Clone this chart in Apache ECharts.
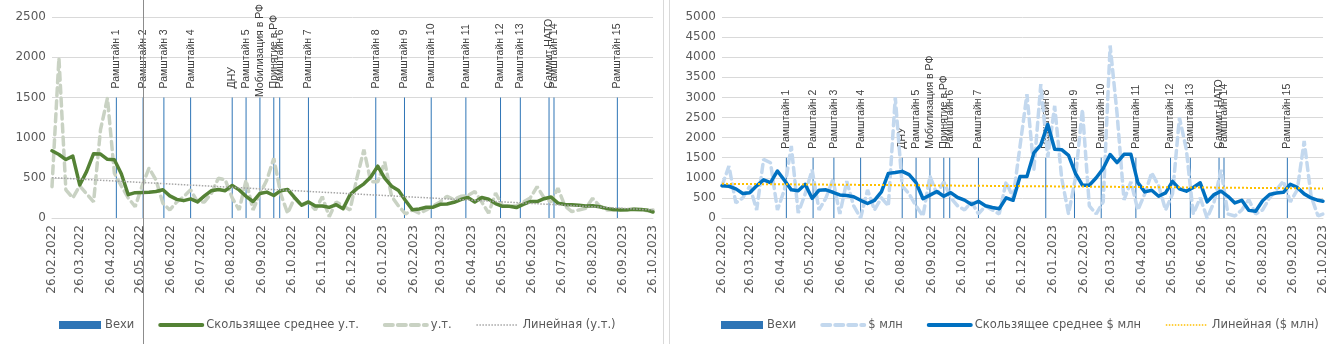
<!DOCTYPE html>
<html><head><meta charset="utf-8">
<script src="https://cdn.jsdelivr.net/npm/echarts@6/dist/echarts.min.js"></script>
<style>
html,body{margin:0;padding:0;background:#fff;width:1334px;height:344px;overflow:hidden}
#c1{position:absolute;left:0;top:0;width:664px;height:344px;border-right:1px solid #d9d9d9;box-sizing:border-box}
#c2{position:absolute;left:669px;top:0;width:665px;height:344px;border-left:1px solid #d9d9d9;box-sizing:border-box}
</style></head><body>
<div id="c1"></div><div id="c2"></div>
<script>
// ---------- DATA ----------
const axisStart = '26.02.2022';
const axisEnd = '26.10.2023';
const monthTicks = ['26.02.2022','26.03.2022','26.04.2022','26.05.2022','26.06.2022','26.07.2022','26.08.2022','26.09.2022','26.10.2022','26.11.2022','26.12.2022','26.01.2023','26.02.2023','26.03.2023','26.04.2023','26.05.2023','26.06.2023','26.07.2023','26.08.2023','26.09.2023','26.10.2023'];
const weekDates = ['26.02.2022','05.03.2022','12.03.2022','19.03.2022','26.03.2022','02.04.2022','09.04.2022','16.04.2022','23.04.2022','30.04.2022','07.05.2022','14.05.2022','21.05.2022','28.05.2022','04.06.2022','11.06.2022','18.06.2022','25.06.2022','02.07.2022','09.07.2022','16.07.2022','23.07.2022','30.07.2022','06.08.2022','13.08.2022','20.08.2022','27.08.2022','03.09.2022','10.09.2022','17.09.2022','24.09.2022','01.10.2022','08.10.2022','15.10.2022','22.10.2022','29.10.2022','05.11.2022','12.11.2022','19.11.2022','26.11.2022','03.12.2022','10.12.2022','17.12.2022','24.12.2022','31.12.2022','07.01.2023','14.01.2023','21.01.2023','28.01.2023','04.02.2023','11.02.2023','18.02.2023','25.02.2023','04.03.2023','11.03.2023','18.03.2023','25.03.2023','01.04.2023','08.04.2023','15.04.2023','22.04.2023','29.04.2023','06.05.2023','13.05.2023','20.05.2023','27.05.2023','03.06.2023','10.06.2023','17.06.2023','24.06.2023','01.07.2023','08.07.2023','15.07.2023','22.07.2023','29.07.2023','05.08.2023','12.08.2023','19.08.2023','26.08.2023','02.09.2023','09.09.2023','16.09.2023','23.09.2023','30.09.2023','07.10.2023','14.10.2023','21.10.2023','26.10.2023'];

// у.т. (left chart)
const utValues = [390,1990,350,250,400,300,200,1100,1490,557,400,250,140,400,620,474,183,100,200,266,350,200,200,307,495,474,250,100,470,100,300,473,743,300,58,250,150,200,100,265,17,200,150,100,500,850,450,450,700,270,150,50,100,60,100,150,200,270,230,270,280,330,200,60,310,150,150,150,200,250,390,250,200,370,150,80,100,120,245,150,100,100,110,100,110,100,90,100];
const utMA = [836,790,727,770,411,580,800,795,730,725,550,290,315,318,320,330,352,275,232,216,238,200,275,340,355,340,405,350,270,205,305,322,280,340,355,255,160,200,148,150,132,165,115,290,365,425,510,645,495,395,341,218,102,112,133,135,170,175,195,230,255,200,255,233,180,145,145,130,170,205,205,240,262,185,168,164,160,150,153,140,120,105,100,102,110,105,95,75];
const utTrend = [502,100];

// $ млн (right chart)
const usdValues = [800,1290,375,500,790,200,1460,1375,200,700,1790,125,600,1200,200,500,960,100,915,300,0,700,200,500,300,3000,800,600,300,50,1040,600,900,500,300,200,400,100,300,200,100,900,500,1790,3080,1200,3330,1500,2790,1000,100,1000,2700,300,100,400,4290,2600,450,900,200,600,1125,800,200,600,2500,1700,100,500,0,400,1200,100,50,200,460,100,200,500,700,915,400,700,1915,540,50,100];
const usdMA = [805,790,725,610,630,800,950,880,1170,940,700,680,840,490,690,700,640,575,560,530,440,360,440,650,1110,1130,1160,1080,880,480,570,660,540,630,510,445,335,415,305,260,230,500,440,1030,1030,1620,1820,2330,1710,1700,1560,1110,816,816,1000,1230,1580,1380,1583,1583,880,650,690,540,625,910,725,667,760,875,400,583,667,540,375,440,190,166,430,583,620,640,840,760,600,500,440,417];
const usdTrend = [850,735];

// milestones
const milestoneDates = ['02.05.2022','29.05.2022','19.06.2022','16.07.2022','27.08.2022','10.09.2022','24.09.2022','08.10.2022','14.10.2022','12.11.2022','19.01.2023','17.02.2023','16.03.2023','20.04.2023','25.05.2023','14.06.2023','13.07.2023','18.07.2023','20.09.2023'];
const milestoneNames = ['Рамштайн 1','Рамштайн 2','Рамштайн 3','Рамштайн 4','ДНУ','Рамштайн 5','Мобилизация в РФ','Принятие в РФ','Рамштайн 6','Рамштайн 7','Рамштайн 8','Рамштайн 9','Рамштайн 10','Рамштайн 11','Рамштайн 12','Рамштайн 13','Саммит НАТО','Рамштайн 14','Рамштайн 15'];
const milestoneValues = [1500,1500,1500,1500,1500,1500,1500,1500,1500,1500,1500,1500,1500,1500,1500,1500,1500,1500,1500];

// ---------- helpers ----------
function parseD(s){const p=s.split('.');return new Date(Date.UTC(+p[2],+p[1]-1,+p[0]));}
function fmtD(d){const dd=String(d.getUTCDate()).padStart(2,'0'),mm=String(d.getUTCMonth()+1).padStart(2,'0');return dd+'.'+mm+'.'+d.getUTCFullYear();}
const days=[];
for(let d=parseD(axisStart);d<=parseD(axisEnd);d=new Date(d.getTime()+86400000)) days.push(fmtD(d));
const pairs=(xs,ys)=>xs.map((x,i)=>[x,ys[i]]);

const TXT='#595959';
const HIDE={color:'rgba(0,0,0,0)',borderColor:'rgba(0,0,0,0)',borderWidth:0};
const LBL_FONT_SIZE=10.5, LBL_FONT='Liberation Sans', LBL_GAP=9;
const GRID_TOP=17, GRID_H=201;
const mctx=document.createElement('canvas').getContext('2d');
mctx.font=LBL_FONT_SIZE+'px "'+LBL_FONT+'"';

// like Excel: a label that would overflow the top of the chart is pushed down to fit
function milestoneData(yMax){
  return milestoneDates.map((d,i)=>{
    const barTop=GRID_TOP+GRID_H*(1-milestoneValues[i]/yMax);
    const w=mctx.measureText(milestoneNames[i]).width;
    const dist=Math.max(0,Math.min(LBL_GAP,barTop-4-w));
    return {value:[d,milestoneValues[i]],label:{distance:dist}};
  });
}

function makeOption(cfg){
  return {
    animation:false,
    graphic: cfg.graphic || [],
    grid:{left:cfg.gridLeft,width:601,top:GRID_TOP,height:GRID_H},
    legend:{
      left:cfg.legendLeft, top:314, itemWidth:42, itemHeight:8, itemGap:24,
      textStyle:{color:TXT,fontSize:11.5,fontFamily:'DejaVu Sans',padding:[0,0,0,-1]},
      data:cfg.legendOrder.map((n,i)=>i===0?{name:n,icon:'rect'}:{name:n,itemStyle:HIDE,lineStyle:{width:n===cfg.trName?1.5:4}})
    },
    xAxis:{
      type:'category', data:days, boundaryGap:false,
      axisLine:{lineStyle:{color:'#d9d9d9'}}, axisTick:{show:false},
      axisLabel:{interval:(i,v)=>monthTicks.includes(v), rotate:90, color:TXT, fontSize:12, fontFamily:'DejaVu Sans', margin:7}
    },
    yAxis:{
      type:'value', min:0, max:cfg.yMax, interval:500,
      axisLine:{show:false}, axisTick:{show:false},
      splitLine:{lineStyle:{color:'#d9d9d9'}},
      axisLabel:{color:TXT,fontSize:12,fontFamily:'DejaVu Sans',margin:6,formatter:v=>String(v)}
    },
    series:[
      {name:'Вехи',type:'bar',barWidth:1,itemStyle:{color:'#2e75b6'},
       data:milestoneData(cfg.yMax),
       label:{show:true,position:'top',rotate:90,align:'left',verticalAlign:'middle',distance:LBL_GAP,
              formatter:p=>milestoneNames[p.dataIndex],color:'#404040',fontSize:LBL_FONT_SIZE,fontFamily:LBL_FONT}},
      {name:cfg.rawName,type:'line',symbol:'none',data:pairs(weekDates,cfg.raw),
       lineStyle:{color:cfg.rawColor,width:3.5,type:[8,5],cap:'round'},itemStyle:{color:cfg.rawColor}},
      {name:cfg.maName,type:'line',symbol:'none',data:pairs(weekDates,cfg.ma),
       lineStyle:{color:cfg.maColor,width:3.5,cap:'round',join:'round'},itemStyle:{color:cfg.maColor}},
      {name:cfg.trName,type:'line',symbol:'none',data:pairs([axisStart,axisEnd],cfg.trend),
       lineStyle:{color:cfg.trColor,width:cfg.trWidth,type:'dotted'},itemStyle:{color:cfg.trColor}}
    ]
  };
}

const ch1=echarts.init(document.getElementById('c1'),null,{renderer:'canvas'});
ch1.setOption(makeOption({
  gridLeft:52, yMax:2500, legendLeft:54,
  rawName:'у.т.', raw:utValues, rawColor:'#c9d2c3',
  maName:'Скользящее среднее у.т.', ma:utMA, maColor:'#548235',
  trName:'Линейная (у.т.)', trend:utTrend, trColor:'#a6a6a6', trWidth:1.5,
  legendOrder:['Вехи','Скользящее среднее у.т.','у.т.','Линейная (у.т.)'],
  graphic:[{type:'line',z:100,shape:{x1:143.5,y1:0,x2:143.5,y2:344},style:{stroke:'#8c8c8c',lineWidth:1}}]
}));

const ch2=echarts.init(document.getElementById('c2'),null,{renderer:'canvas'});
ch2.setOption(makeOption({
  gridLeft:52, yMax:5000, legendLeft:46,
  rawName:'$ млн', raw:usdValues, rawColor:'#c3d8ee',
  maName:'Скользящее среднее $ млн', ma:usdMA, maColor:'#0070c0',
  trName:'Линейная ($ млн)', trend:usdTrend, trColor:'#ffc000', trWidth:2,
  legendOrder:['Вехи','$ млн','Скользящее среднее $ млн','Линейная ($ млн)']
}));
</script>
</body></html>
